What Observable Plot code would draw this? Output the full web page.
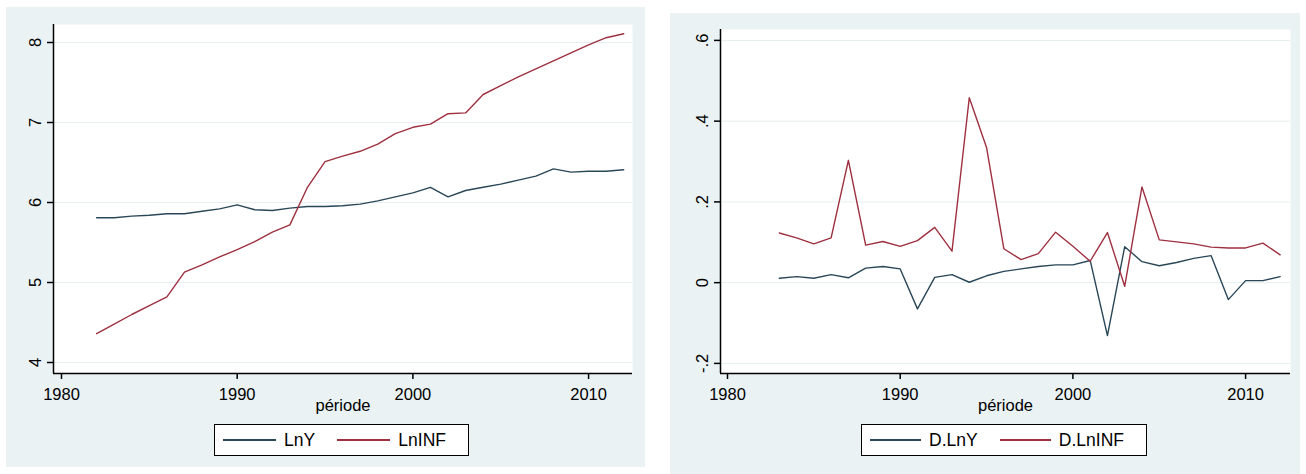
<!DOCTYPE html>
<html><head><meta charset="utf-8">
<script src="https://cdn.jsdelivr.net/npm/d3@7"></script>
<script src="https://cdn.jsdelivr.net/npm/@observablehq/plot@0.6"></script>
<style>
body{margin:0;background:#fff;width:1306px;height:474px;overflow:hidden;position:relative;font-family:"Liberation Sans",Arial,sans-serif;}
.panel{position:absolute;background:#eaf2f3;}
.panel svg{position:absolute;left:0;top:0;}
.legend{position:absolute;background:#fff;border:1.5px solid #000;box-sizing:border-box;display:flex;align-items:center;font-size:17.5px;color:#000;padding-left:8px;}
.sw{display:inline-block;height:2px;margin-right:8px;}
.lab{margin-right:22px;}
</style></head><body>
<div id="left" class="panel" style="left:6px;top:7px;width:639px;height:460px"></div>
<div id="right" class="panel" style="left:670px;top:13px;width:630px;height:461px"></div>
<div id="legL" class="legend" style="left:214px;top:424px;width:255px;height:32px"></div>
<div id="legR" class="legend" style="left:861px;top:424px;width:286px;height:32px"></div>
<script>
// ---- data ----
const years1 = [1982,1983,1984,1985,1986,1987,1988,1989,1990,1991,1992,1993,1994,1995,1996,1997,1998,1999,2000,2001,2002,2003,2004,2005,2006,2007,2008,2009,2010,2011,2012];
const lnY   = [5.81,5.81,5.83,5.84,5.86,5.86,5.89,5.92,5.97,5.91,5.90,5.93,5.95,5.95,5.96,5.98,6.02,6.07,6.12,6.19,6.07,6.15,6.19,6.23,6.28,6.33,6.42,6.38,6.39,6.39,6.41];
const lnINF = [4.36,4.48,4.60,4.71,4.82,5.13,5.22,5.32,5.41,5.51,5.63,5.72,6.19,6.51,6.58,6.64,6.73,6.86,6.94,6.98,7.11,7.12,7.35,7.46,7.57,7.67,7.77,7.87,7.97,8.06,8.11];
const years2 = [1983,1984,1985,1986,1987,1988,1989,1990,1991,1992,1993,1994,1995,1996,1997,1998,1999,2000,2001,2002,2003,2004,2005,2006,2007,2008,2009,2010,2011,2012];
const dLnY   = [0.011,0.015,0.011,0.020,0.012,0.036,0.040,0.034,-0.065,0.013,0.020,0.001,0.017,0.028,0.034,0.040,0.044,0.044,0.055,-0.131,0.089,0.052,0.042,0.050,0.060,0.067,-0.042,0.005,0.005,0.015];
const dLnINF = [0.123,0.111,0.096,0.111,0.303,0.093,0.102,0.090,0.104,0.137,0.078,0.458,0.335,0.084,0.057,0.072,0.125,0.090,0.053,0.124,-0.009,0.237,0.106,0.101,0.096,0.088,0.086,0.086,0.098,0.069];
const xTicks  = [1980,1990,2000,2010];
const yTicks1 = [4,5,6,7,8];
const yTicks2 = [-0.2,0,0.2,0.4,0.6];
const names1 = ["LnY","LnINF"];
const names2 = ["D.LnY","D.LnINF"];
const xTitle = "période";
const colors = ["#2a4758","#9e3040"];

const stataFmt = d => d === 0 ? "0" : String(+d.toFixed(2)).replace(/^(-?)0\./, "$1.");

function table(years, a, b, names) {
  const rows = [];
  years.forEach((yr, i) => rows.push({year: yr, value: a[i], series: names[0]}));
  years.forEach((yr, i) => rows.push({year: yr, value: b[i], series: names[1]}));
  return rows;
}

function draw(el, cfg) {
  const data = table(cfg.years, cfg.a, cfg.b, cfg.names);
  const plot = Plot.plot({
    width: cfg.width, height: cfg.height,
    marginLeft: cfg.ml, marginRight: cfg.mr, marginTop: cfg.mt, marginBottom: cfg.mb,
    style: {background: "transparent", fontFamily: "'Liberation Sans', Arial, sans-serif", fontSize: "16.5px", color: "#000", overflow: "visible"},
    x: {domain: cfg.xDomain},
    y: {domain: cfg.yDomain},
    color: {domain: cfg.names, range: colors},
    marks: [
      Plot.frame({fill: "#fff", stroke: null}),
      Plot.gridY(cfg.yTicks, {stroke: "#e6eef0", strokeOpacity: 1, strokeWidth: 1}),
      Plot.line(data, {x: "year", y: "value", z: "series", stroke: "series", strokeWidth: 1.4}),
      Plot.ruleX([cfg.xDomain[0]], {stroke: "#000", strokeWidth: 1.5}),
      Plot.ruleY([cfg.yDomain[0]], {stroke: "#000", strokeWidth: 1.5}),
      Plot.axisY(cfg.yTicks, {tickRotate: -90, tickSize: 6, tickPadding: 7, tickFormat: stataFmt, strokeWidth: 1.5, label: null}),
      Plot.axisX(xTicks, {tickSize: 6, tickPadding: 9, tickFormat: d => String(d), strokeWidth: 1.5,
        label: xTitle, labelAnchor: "center", labelArrow: "none", labelOffset: 37})
    ]
  });
  el.appendChild(plot);
}

draw(document.getElementById("left"), {
  years: years1, a: lnY, b: lnINF, names: names1,
  width: 639, height: 410, ml: 47, mr: 13, mt: 17, mb: 44,
  xDomain: [1979.545, 2012.5], yDomain: [3.8625, 8.225], yTicks: yTicks1
});
draw(document.getElementById("right"), {
  years: years2, a: dLnY, b: dLnINF, names: names2,
  width: 630, height: 404, ml: 50, mr: 10, mt: 16, mb: 44,
  xDomain: [1979.595, 2012.6], yDomain: [-0.225, 0.627], yTicks: yTicks2
});

function legend(id, names, w1) {
  const el = document.getElementById(id);
  names.forEach((n, i) => {
    const sw = document.createElement("span");
    sw.className = "sw"; sw.style.width = w1 + "px"; sw.style.background = colors[i];
    const t = document.createElement("span");
    t.className = "lab"; t.textContent = n;
    el.appendChild(sw); el.appendChild(t);
  });
}
legend("legL", names1, 59);
legend("legR", names2, 59);
</script>
</body></html>
